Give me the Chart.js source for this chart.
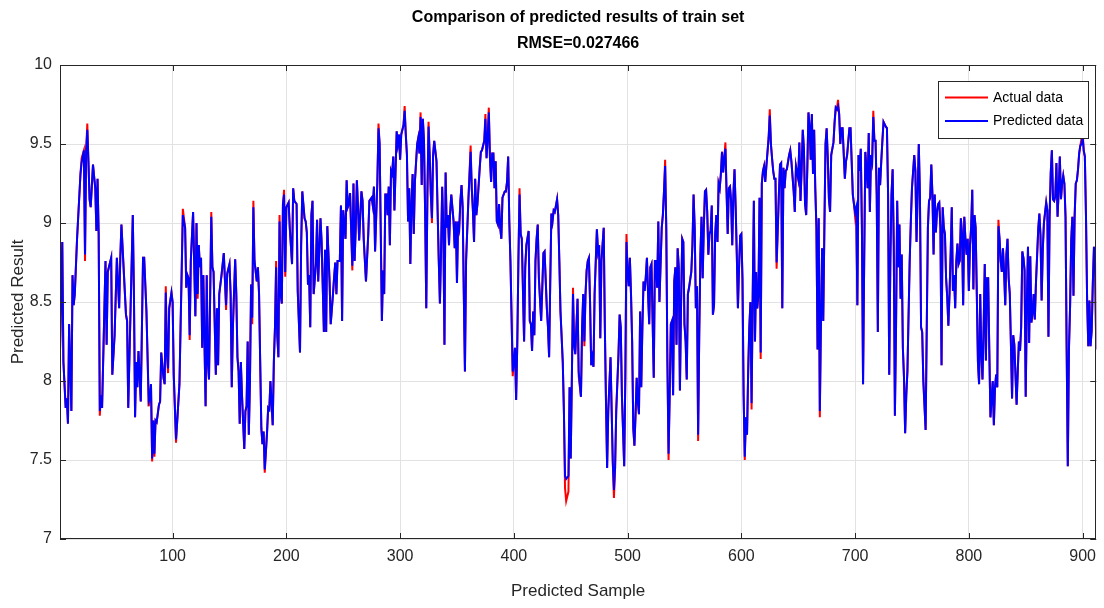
<!DOCTYPE html>
<html>
<head>
<meta charset="utf-8">
<script src="https://cdn.jsdelivr.net/npm/chart.js@4.4.1/dist/chart.umd.min.js"></script>
<style>
  html, body { margin: 0; padding: 0; background: #ffffff; }
  canvas { display: block; }
</style>
</head>
<body>
<canvas id="c" width="1104" height="608"></canvas>
<script>
// ---------------- data ----------------
const titleLines = ['Comparison of predicted results of train set', 'RMSE=0.027466'];
const xTitle = 'Predicted Sample';
const yTitle = 'Predicted Result';
const xTicks = [100, 200, 300, 400, 500, 600, 700, 800, 900];
const yTicks = [7, 7.5, 8, 8.5, 9, 9.5, 10];
const yTickLabels = ['7', '7.5', '8', '8.5', '9', '9.5', '10'];
const seriesNames = ['Actual data', 'Predicted data'];

const samples = [
1,3,4,6,7,8,9,11,12,13,14,16,19,20,22,23,24,25,26,27,28,30,32,33,34,35,36,37,38,41,42,43,46,47,49,51,53,54,55,59,60,61,65,66,67,68,69,70,72,74,75,77,79,
80,81,82,83,84,85,86,88,89,90,92,93,94,95,96,97,99,100,101,103,104,106,107,109,111,112,113,114,115,116,118,120,121,122,123,124,125,126,127,129,130,131,132,134,135,136,138,139,140,141,143,145,147,148,150,151,152,153,155,
156,157,158,159,160,161,163,164,165,166,167,168,169,170,171,172,174,175,176,177,178,179,180,181,183,184,185,186,188,189,190,191,192,193,194,195,196,197,198,199,200,202,203,205,206,207,209,210,212,213,214,216,217,218,219,220,221,222,223,224,226,227,228,230,231,233,
234,235,236,238,239,241,242,243,244,245,247,248,249,250,252,253,254,255,256,258,259,260,261,262,263,264,266,267,268,270,272,273,275,276,277,278,280,281,282,284,285,286,287,288,289,290,291,292,293,294,295,297,298,299,300,301,303,304,305,306,307,308,309,
310,311,312,313,315,316,317,318,319,320,321,322,323,324,325,326,327,328,329,330,332,333,334,335,336,337,338,339,340,341,342,343,344,345,347,348,349,350,351,352,353,354,355,356,357,358,360,362,363,364,365,366,367,368,370,371,372,374,375,376,377,378,379,380,381,382,383,384,385,386,
387,388,389,390,392,393,394,395,396,397,399,400,401,402,403,404,405,406,407,409,410,411,413,414,415,416,417,418,419,420,421,422,424,425,426,427,429,430,431,432,433,434,435,436,438,439,440,441,443,444,445,446,448,449,450,451,452,453,454,456,457,459,460,461,462,463,464,
465,466,467,468,469,470,471,473,474,475,476,477,479,480,481,482,483,485,486,487,488,489,490,492,493,494,495,497,498,499,500,501,502,503,504,505,506,507,508,509,510,511,512,513,514,515,516,517,518,519,520,521,523,524,525,526,527,528,530,531,532,533,534,535,536,537,538,539,540,541,
542,543,544,545,546,547,548,549,550,551,552,553,554,556,557,558,559,560,561,562,563,564,565,566,567,568,569,570,571,572,573,574,575,576,577,578,579,580,581,582,583,584,585,586,587,588,589,590,591,592,593,594,595,596,597,598,599,600,601,602,603,604,605,606,607,608,609,610,611,612,613,614,615,616,617,618,
619,620,621,622,623,624,625,626,627,628,629,630,631,633,634,635,636,637,638,639,640,642,643,644,646,647,648,650,651,652,653,654,655,656,657,658,659,660,661,662,663,664,665,666,667,668,669,670,671,672,673,674,675,676,677,678,679,681,682,683,684,685,686,687,688,689,691,692,693,695,
696,697,698,699,700,701,702,703,704,705,706,707,708,709,710,711,712,713,714,715,716,717,718,719,720,721,722,723,724,725,727,728,729,730,731,732,733,734,735,736,737,738,739,740,741,742,743,744,745,746,748,749,750,752,753,754,755,756,757,758,759,760,762,763,764,765,766,767,768,769,770,771,
772,773,774,775,776,777,778,779,780,781,782,783,784,785,786,787,788,789,790,791,792,793,794,795,796,797,798,799,800,801,802,803,804,805,806,807,808,809,810,811,812,813,814,815,816,817,818,819,821,822,823,824,825,826,827,828,829,830,831,832,833,834,835,836,837,838,839,840,842,843,844,845,846,847,848,
849,850,851,852,853,854,855,856,857,858,859,860,861,862,863,864,865,866,868,869,870,871,872,873,874,875,876,877,878,879,880,881,882,883,884,885,886,887,888,889,890,891,892,893,894,895,896,897,898,899,900,901,902,903,904,905,906,907,908,909,910,911,912
];

const predicted = [
8.19,8.88,8.12,7.83,7.89,7.73,8.36,7.81,8.67,8.48,8.55,8.90,9.31,9.38,9.46,8.80,9.46,9.59,9.39,9.15,9.10,9.37,9.22,8.95,9.28,8.93,7.81,7.91,7.83,8.76,8.23,8.69,8.78,8.04,8.29,8.78,8.46,8.78,8.99,8.42,8.38,7.83,9.05,8.55,7.77,8.12,7.96,8.19,7.87,8.78,8.78,8.44,7.87,
7.89,7.98,7.51,7.75,7.54,7.75,7.74,7.85,7.87,8.18,8.02,7.98,8.56,8.17,8.08,8.46,8.56,8.50,8.04,7.63,7.74,7.98,8.34,9.05,8.97,8.59,8.67,8.65,8.29,8.76,9.07,8.41,9.00,8.55,8.86,8.72,8.78,8.21,8.67,7.84,8.67,8.12,8.01,9.04,8.72,8.69,8.04,8.46,8.10,8.55,8.67,8.81,8.48,8.68,8.74,8.55,7.96,8.34,8.77,
8.55,8.15,8.06,7.73,8.12,7.91,7.57,7.81,7.84,8.25,7.66,8.00,8.61,8.40,9.10,8.76,8.63,8.72,8.55,8.12,7.70,7.60,7.68,7.44,7.67,7.83,7.82,8.00,7.72,8.12,8.34,8.72,8.29,8.15,9.01,8.55,8.49,9.12,9.18,8.69,9.10,9.13,8.97,8.74,9.22,9.14,9.12,8.57,8.18,8.86,9.20,9.03,9.01,8.94,8.61,8.67,8.34,9.05,9.14,8.55,8.74,9.02,8.63,9.03,8.88,8.31,
8.83,8.31,8.98,8.63,8.36,8.55,8.66,8.75,8.55,8.76,8.76,9.11,8.38,9.08,8.90,9.27,9.10,9.12,9.19,8.73,9.25,8.76,8.97,9.27,9.10,8.89,9.20,9.14,8.90,8.63,8.93,9.14,9.16,9.11,9.23,8.82,9.26,9.60,9.50,8.38,8.70,8.55,9.18,9.18,9.05,9.23,8.86,9.33,9.31,9.42,9.08,9.58,9.50,9.56,9.40,9.56,9.62,9.71,9.56,9.43,9.01,9.22,8.74,
9.12,9.31,8.93,9.26,9.50,9.54,9.44,9.67,9.24,9.66,9.52,9.07,8.46,9.18,9.61,9.43,9.18,9.03,9.43,9.52,9.39,9.07,8.76,8.49,8.82,9.23,8.97,8.23,9.32,8.97,9.05,8.86,9.07,9.18,9.01,8.84,9.01,8.62,9.01,8.97,9.14,9.24,9.10,8.55,8.06,8.76,9.14,9.45,9.22,9.08,8.88,9.28,9.05,9.12,9.35,9.45,9.46,9.52,9.66,9.41,9.54,9.70,9.41,9.26,9.44,9.44,9.22,9.39,9.01,8.99,
9.12,8.97,8.90,9.16,9.20,9.20,9.26,9.42,9.01,8.76,8.06,8.12,8.21,7.88,8.23,8.76,9.18,8.93,8.90,8.25,8.72,8.86,8.95,8.38,8.36,8.19,8.44,8.29,8.76,8.90,8.99,8.65,8.38,8.59,8.81,8.82,8.46,8.34,8.15,8.63,9.06,9.01,9.08,9.07,9.15,9.05,8.76,8.44,8.12,7.81,7.40,7.38,7.40,7.96,7.51,8.02,8.55,8.23,8.17,8.52,8.06,7.90,8.34,8.55,8.25,8.55,8.70,
8.76,8.78,8.50,8.10,8.15,8.09,8.55,8.96,8.82,8.86,8.27,8.76,8.97,8.34,7.87,7.45,7.81,8.15,7.81,7.48,7.31,7.45,7.81,8.17,8.42,8.34,7.91,7.46,8.02,8.88,8.69,8.60,8.78,8.55,8.25,7.70,7.59,7.79,8.02,7.87,7.79,8.44,7.96,8.34,8.63,8.57,8.66,8.78,8.55,8.36,8.72,8.74,8.02,8.76,8.76,8.59,9.01,8.50,8.97,9.05,9.20,9.36,8.97,8.12,7.54,7.91,8.36,8.38,7.91,8.63,
8.72,8.23,8.84,8.72,7.94,8.48,8.90,8.88,8.36,8.25,8.01,8.55,8.59,8.69,8.86,9.18,8.97,8.46,8.60,7.66,8.30,8.80,9.04,8.65,8.97,9.20,9.21,9.07,8.80,8.93,8.95,9.11,8.42,8.48,8.93,9.05,8.88,9.25,9.22,9.31,9.45,9.32,9.41,9.47,9.20,8.93,9.22,9.23,9.14,8.86,9.18,9.34,9.10,8.80,8.46,8.72,8.92,8.93,8.65,7.91,7.52,7.77,7.66,8.06,8.34,8.50,7.86,8.55,9.14,8.25,8.69,8.46,8.55,9.16,8.18,9.25,
9.33,9.36,9.26,9.36,9.45,9.54,9.68,9.50,9.41,9.33,9.28,9.28,8.75,9.18,9.37,9.38,8.46,9.35,9.22,9.33,9.34,9.43,9.46,9.39,9.20,9.07,9.36,9.28,9.51,9.14,9.34,9.59,9.47,9.12,9.05,9.35,9.70,9.61,9.40,9.69,9.31,9.59,9.22,8.97,8.20,9.03,7.81,8.38,8.84,8.38,8.97,9.50,9.60,9.41,9.15,9.07,9.43,9.51,9.64,9.73,9.72,9.74,9.69,9.50,9.60,9.60,9.28,9.39,9.43,9.60,
9.60,9.39,9.18,9.12,9.07,9.10,8.48,9.43,9.33,9.47,8.97,7.98,8.76,9.45,9.35,9.22,9.57,9.07,9.43,9.39,9.67,9.52,9.52,9.18,8.31,9.35,9.24,9.39,9.52,9.64,9.61,9.60,9.18,8.04,8.76,9.18,9.34,8.86,7.78,8.34,9.14,8.72,8.99,8.52,8.80,8.21,8.02,7.67,7.91,8.06,8.76,9.01,9.22,9.43,9.33,8.88,9.18,9.50,9.18,8.34,8.31,8.00,7.69,8.34,8.97,9.14,9.16,9.37,9.18,8.80,9.18,8.94,
9.07,9.12,9.13,8.97,8.10,9.10,8.97,8.93,8.65,8.53,8.35,8.55,8.80,9.10,8.57,8.67,8.46,8.76,8.87,8.74,8.76,9.03,8.93,8.48,9.04,8.90,8.80,8.90,8.57,8.86,8.97,9.21,8.58,9.05,8.97,8.55,8.12,7.98,8.55,8.17,8.01,8.34,8.74,8.13,8.65,8.65,8.19,7.77,8.00,7.72,7.96,8.04,7.96,8.98,8.90,8.76,8.69,8.84,8.69,8.48,8.80,8.90,8.65,8.55,8.23,7.89,8.29,8.23,7.85,8.06,8.25,8.19,8.34,8.82,8.78,
8.70,7.90,8.49,8.85,8.24,8.79,8.37,8.43,8.55,8.39,8.62,8.79,8.96,9.06,8.92,8.51,8.83,9.00,9.13,9.08,8.28,9.04,9.32,9.46,9.15,9.14,9.17,9.38,9.04,9.21,9.42,9.15,9.25,9.30,9.25,9.04,8.20,7.46,8.20,8.47,8.89,9.04,8.54,9.04,9.25,9.27,9.34,9.44,9.49,9.50,9.55,9.46,9.42,9.04,8.51,8.22,8.51,8.22,8.32,8.62,8.85,8.75,8.20
];

const actual = [
8.19,8.88,8.12,7.83,7.89,7.73,8.36,7.81,8.67,8.48,8.55,8.90,9.31,9.41,9.46,8.76,9.46,9.63,9.39,9.15,9.10,9.37,9.22,8.95,9.28,8.93,7.78,7.91,7.83,8.76,8.23,8.69,8.78,8.04,8.29,8.78,8.46,8.78,8.99,8.42,8.38,7.83,9.05,8.55,7.77,8.12,7.96,8.19,7.87,8.78,8.78,8.44,7.84,
7.89,7.98,7.49,7.75,7.52,7.75,7.74,7.85,7.87,8.18,8.02,7.98,8.60,8.17,8.05,8.46,8.56,8.50,8.04,7.61,7.74,7.98,8.34,9.09,8.97,8.59,8.67,8.65,8.26,8.76,9.07,8.41,9.00,8.52,8.86,8.72,8.78,8.21,8.67,7.84,8.67,8.12,8.01,9.07,8.72,8.69,8.04,8.46,8.10,8.55,8.67,8.81,8.45,8.68,8.74,8.55,7.96,8.34,8.77,
8.55,8.15,8.06,7.73,8.12,7.91,7.57,7.81,7.84,8.25,7.66,8.00,8.61,8.36,9.14,8.76,8.63,8.72,8.55,8.12,7.70,7.60,7.68,7.42,7.67,7.83,7.82,8.00,7.72,8.12,8.34,8.76,8.29,8.15,9.05,8.55,8.49,9.12,9.21,8.66,9.10,9.13,8.97,8.74,9.22,9.14,9.12,8.57,8.18,8.86,9.20,9.03,9.01,8.94,8.61,8.67,8.34,9.05,9.14,8.55,8.74,9.02,8.63,9.03,8.88,8.31,
8.83,8.31,8.98,8.63,8.36,8.55,8.66,8.75,8.55,8.76,8.76,9.11,8.38,9.08,8.90,9.27,9.10,9.12,9.19,8.70,9.25,8.76,8.97,9.27,9.10,8.89,9.20,9.14,8.90,8.63,8.93,9.14,9.16,9.11,9.23,8.82,9.26,9.63,9.50,8.38,8.70,8.55,9.18,9.18,9.05,9.23,8.86,9.33,9.31,9.42,9.08,9.58,9.50,9.56,9.40,9.56,9.62,9.74,9.56,9.43,9.01,9.22,8.74,
9.12,9.31,8.93,9.26,9.50,9.54,9.44,9.70,9.24,9.66,9.52,9.07,8.46,9.18,9.64,9.43,9.18,9.00,9.43,9.52,9.39,9.07,8.76,8.49,8.82,9.23,8.97,8.23,9.32,8.97,9.05,8.86,9.07,9.18,9.01,8.84,9.01,8.62,9.01,8.97,9.14,9.24,9.10,8.55,8.06,8.76,9.14,9.49,9.22,9.08,8.88,9.28,9.05,9.12,9.35,9.45,9.46,9.52,9.69,9.41,9.54,9.73,9.41,9.26,9.44,9.44,9.22,9.39,9.01,8.99,
9.12,8.97,8.90,9.16,9.20,9.20,9.26,9.42,9.01,8.76,8.03,8.12,8.21,7.88,8.23,8.76,9.22,8.93,8.90,8.25,8.72,8.86,8.95,8.38,8.36,8.19,8.44,8.29,8.76,8.90,8.99,8.65,8.38,8.59,8.81,8.82,8.46,8.34,8.15,8.63,9.06,9.01,9.08,9.07,9.15,9.05,8.76,8.44,8.12,7.81,7.32,7.24,7.30,7.96,7.51,8.02,8.59,8.23,8.17,8.52,8.03,7.90,8.34,8.55,8.22,8.55,8.70,
8.76,8.78,8.50,8.10,8.15,8.09,8.55,8.96,8.82,8.86,8.27,8.76,8.97,8.34,7.87,7.45,7.81,8.15,7.81,7.48,7.26,7.45,7.81,8.17,8.42,8.34,7.91,7.46,8.02,8.93,8.69,8.60,8.78,8.55,8.25,7.70,7.59,7.79,8.02,7.87,7.79,8.44,7.96,8.34,8.63,8.57,8.66,8.78,8.55,8.36,8.72,8.74,8.02,8.76,8.76,8.59,9.01,8.50,8.97,9.05,9.20,9.40,8.97,8.12,7.50,7.91,8.36,8.38,7.91,8.63,
8.72,8.23,8.84,8.72,7.94,8.48,8.90,8.88,8.36,8.25,8.01,8.55,8.59,8.69,8.86,9.18,8.97,8.46,8.60,7.62,8.30,8.80,9.04,8.65,8.97,9.20,9.21,9.07,8.80,8.93,8.95,9.11,8.42,8.48,8.93,9.05,8.88,9.25,9.22,9.31,9.45,9.32,9.41,9.51,9.20,8.93,9.22,9.23,9.14,8.86,9.18,9.34,9.10,8.80,8.46,8.72,8.92,8.93,8.65,7.91,7.50,7.77,7.66,8.06,8.34,8.50,7.82,8.55,9.14,8.25,8.69,8.46,8.55,9.16,8.14,9.25,
9.33,9.36,9.26,9.36,9.45,9.54,9.72,9.50,9.41,9.33,9.28,9.28,8.71,9.18,9.37,9.38,8.46,9.35,9.22,9.33,9.34,9.43,9.46,9.39,9.20,9.07,9.36,9.28,9.51,9.14,9.34,9.59,9.47,9.12,9.05,9.35,9.70,9.61,9.40,9.69,9.31,9.59,9.22,8.97,8.20,9.03,7.77,8.38,8.84,8.38,8.97,9.50,9.60,9.41,9.15,9.07,9.43,9.51,9.64,9.73,9.72,9.78,9.69,9.50,9.60,9.60,9.28,9.39,9.43,9.60,
9.60,9.39,9.18,9.12,9.04,9.10,8.48,9.43,9.33,9.47,8.97,7.98,8.76,9.45,9.35,9.22,9.57,9.07,9.43,9.39,9.71,9.52,9.52,9.18,8.31,9.35,9.24,9.39,9.52,9.64,9.61,9.60,9.18,8.04,8.76,9.18,9.34,8.86,7.78,8.34,9.14,8.72,8.99,8.52,8.80,8.21,8.02,7.67,7.91,8.06,8.76,9.01,9.22,9.43,9.33,8.88,9.18,9.50,9.18,8.34,8.31,8.00,7.69,8.34,8.97,9.14,9.16,9.37,9.18,8.80,9.18,8.94,
9.07,9.12,9.13,8.97,8.10,9.10,8.97,8.93,8.65,8.53,8.35,8.55,8.80,9.10,8.57,8.67,8.46,8.76,8.87,8.74,8.76,9.03,8.93,8.48,9.04,8.90,8.80,8.90,8.57,8.86,8.97,9.21,8.58,9.05,8.97,8.55,8.12,7.98,8.55,8.17,8.01,8.34,8.74,8.13,8.65,8.65,8.19,7.77,8.00,7.72,7.96,8.04,7.96,9.02,8.90,8.76,8.69,8.84,8.69,8.48,8.80,8.90,8.65,8.55,8.23,7.89,8.29,8.23,7.85,8.06,8.25,8.19,8.34,8.82,8.78,
8.70,7.90,8.49,8.85,8.24,8.79,8.37,8.43,8.55,8.39,8.62,8.79,8.96,9.06,8.92,8.51,8.83,9.00,9.13,9.08,8.28,9.04,9.32,9.46,9.15,9.14,9.17,9.38,9.04,9.21,9.42,9.15,9.25,9.30,9.25,9.04,8.20,7.46,8.20,8.47,8.89,9.04,8.54,9.04,9.25,9.27,9.34,9.44,9.49,9.53,9.59,9.46,9.42,9.04,8.51,8.22,8.51,8.22,8.32,8.62,8.85,8.75,8.20
];

// ---------------- chart ----------------
const FONT = "'Liberation Sans', Arial, Helvetica, sans-serif";
const AXIS_COLOR = '#262626';
const GRID_COLOR = '#e2e2e2';

const predPts = samples.map((s, i) => ({ x: s, y: predicted[i] }));
const actPts = samples.map((s, i) => ({ x: s, y: actual[i] }));

const framePlugin = {
  id: 'matlabFrame',
  afterDraw(chart) {
    const { ctx, chartArea: a, scales } = chart;
    ctx.save();
    // title, centred over the axes (MATLAB style)
    ctx.fillStyle = '#000000';
    ctx.font = 'bold 16px ' + FONT;
    ctx.textAlign = 'center';
    ctx.textBaseline = 'middle';
    const cx = (a.left + a.right) / 2;
    ctx.fillText(titleLines[0], cx, 18);
    ctx.fillText(titleLines[1], cx, 44);

    ctx.strokeStyle = AXIS_COLOR;
    ctx.lineWidth = 1;
    ctx.strokeRect(Math.round(a.left) + 0.5, Math.round(a.top) + 0.5,
                   Math.round(a.right - a.left) - 1, Math.round(a.bottom - a.top) - 1);
    const tl = 6;
    ctx.beginPath();
    xTicks.forEach(v => {
      const px = Math.round(scales.x.getPixelForValue(v)) + 0.5;
      ctx.moveTo(px, a.bottom); ctx.lineTo(px, a.bottom - tl);
      ctx.moveTo(px, a.top); ctx.lineTo(px, a.top + tl);
    });
    yTicks.forEach(v => {
      const py = Math.round(scales.y.getPixelForValue(v)) + 0.5;
      ctx.moveTo(a.left, py); ctx.lineTo(a.left + tl, py);
      ctx.moveTo(a.right, py); ctx.lineTo(a.right - tl, py);
    });
    ctx.stroke();

    // legend box (inside the axes, top-right)
    const bx = 938.5, by = 81.5, bw = 150, bh = 57;
    ctx.fillStyle = '#ffffff';
    ctx.fillRect(bx, by, bw, bh);
    ctx.strokeStyle = AXIS_COLOR;
    ctx.strokeRect(bx, by, bw, bh);
    const entries = [
      { name: seriesNames[0], color: '#ff0000', y: 97.5 },
      { name: seriesNames[1], color: '#0000ff', y: 121 }
    ];
    ctx.font = '14px ' + FONT;
    ctx.textBaseline = 'middle';
    ctx.textAlign = 'left';
    entries.forEach(e => {
      ctx.beginPath();
      ctx.strokeStyle = e.color;
      ctx.lineWidth = 2;
      ctx.moveTo(945, e.y); ctx.lineTo(988, e.y);
      ctx.stroke();
      ctx.fillStyle = '#000000';
      ctx.fillText(e.name, 993, e.y + 0.5);
    });
    ctx.restore();
  }
};

new Chart(document.getElementById('c'), {
  type: 'line',
  data: {
    datasets: [
      { label: seriesNames[1], data: predPts, borderColor: '#0000ff', backgroundColor: '#0000ff',
        borderWidth: 2, pointRadius: 0, tension: 0, fill: false },
      { label: seriesNames[0], data: actPts, borderColor: '#ff0000', backgroundColor: '#ff0000',
        borderWidth: 2, pointRadius: 0, tension: 0, fill: false }
    ]
  },
  options: {
    responsive: false,
    animation: false,
    events: [],
    layout: { padding: { left: 0, right: 5, top: 65, bottom: 0 } },
    plugins: {
      legend: { display: false },
      tooltip: { enabled: false },
      title: { display: false }
    },
    scales: {
      x: {
        type: 'linear',
        min: 1,
        max: 912,
        afterBuildTicks: s => { s.ticks = xTicks.map(v => ({ value: v })); },
        afterFit: s => { s.height = 69; },
        ticks: { font: { family: FONT, size: 16 }, color: AXIS_COLOR, padding: 8,
                 maxRotation: 0, autoSkip: false },
        grid: { color: GRID_COLOR, drawTicks: false, lineWidth: 1 },
        border: { display: false },
        title: { display: true, text: xTitle, color: AXIS_COLOR,
                 font: { family: FONT, size: 17 }, padding: { top: 4, bottom: 6 } }
      },
      y: {
        type: 'linear',
        min: 7,
        max: 10,
        afterBuildTicks: s => { s.ticks = yTicks.map(v => ({ value: v })); },
        afterFit: s => { s.width = 60; },
        ticks: { font: { family: FONT, size: 16 }, color: AXIS_COLOR, padding: 8,
                 callback: (v) => { const i = yTicks.indexOf(v); return i >= 0 ? yTickLabels[i] : ''; } },
        grid: { color: GRID_COLOR, drawTicks: false, lineWidth: 1 },
        border: { display: false },
        title: { display: true, text: yTitle, color: AXIS_COLOR,
                 font: { family: FONT, size: 17 }, padding: { top: 8, bottom: 0 } }
      }
    }
  },
  plugins: [framePlugin]
});
</script>
</body>
</html>
